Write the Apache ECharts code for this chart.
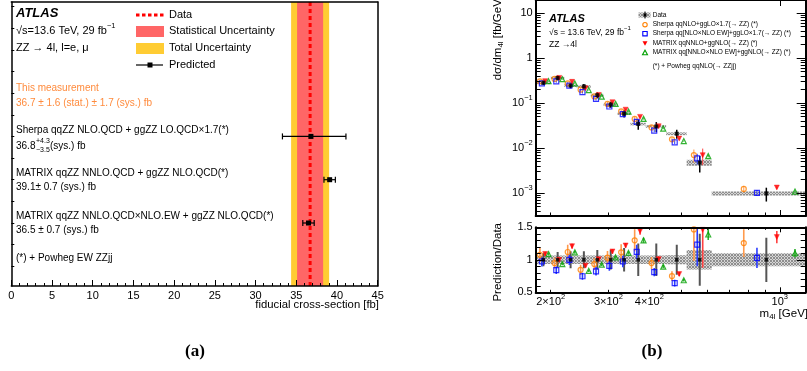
<!DOCTYPE html>
<html>
<head>
<meta charset="utf-8">
<title>ZZ fiducial cross-section and m4l</title>
<script src="https://cdn.jsdelivr.net/npm/echarts@6.0.0/dist/echarts.min.js"></script>
<style>
  html, body { margin: 0; padding: 0; background: #fff; }
  #chart { width: 807px; height: 371px; }
</style>
</head>
<body>
<div id="chart"></div>
<script>
// ---------- (a) fiducial cross-section ----------
const measVal = 36.7
const measStat = 1.6
const measSys = 1.7
const predLabels = [
  'Sherpa qqZZ NLO.QCD + ggZZ LO.QCD×1.7(*)',
  'MATRIX qqZZ NNLO.QCD + ggZZ NLO.QCD(*)',
  'MATRIX qqZZ NNLO.QCD×NLO.EW + ggZZ NLO.QCD(*)'
]
const predVal = [36.8, 39.1, 36.5]
const predDown = [3.5, 0.7, 0.7]
const predUp = [4.3, 0.7, 0.7]
const predRow = [3, 2, 1]

// ---------- (b) m4l differential ----------
const binEdges = [180, 200, 220, 240, 265, 290, 320, 350, 390, 450, 520, 620, 1200]
const dataXs = [0.28, 0.36, 0.243, 0.233, 0.149, 0.092, 0.058, 0.034, 0.030, 0.0207, 0.00473, 0.000975]
const dataStat = [0.10, 0.12, 0.13, 0.13, 0.15, 0.15, 0.18, 0.25, 0.25, 0.23, 0.40, 0.34]
const dataSyst = [0.065, 0.065, 0.065, 0.065, 0.065, 0.065, 0.065, 0.065, 0.065, 0.07, 0.15, 0.10]
const sherpa = [0.3016, 0.342, 0.2722, 0.1971, 0.1393, 0.0950, 0.0647, 0.0442, 0.0285, 0.01553, 0.00694, 0.001226]
const sherpaEW = [0.2727, 0.3024, 0.243, 0.1741, 0.1226, 0.0833, 0.0565, 0.0381, 0.0243, 0.01325, 0.00584, 0.001004]
const matrix = [0.3052, 0.36, 0.2940, 0.2120, 0.1505, 0.1038, 0.0708, 0.0490, 0.0303, 0.01615, 0.00691, 0.001316]
const matrixEW = [0.3046, 0.3366, 0.2709, 0.1934, 0.1378, 0.0955, 0.0641, 0.0442, 0.02685, 0.01418, 0.00657, 0.001073]
const sherpaErr = [0.10, 0.09, 0.10, 0.09, 0.10, 0.10, 0.11, 0.13, 0.10, 0.10, 0.33, 0.17]
const sherpaEWErr = [0.08, 0.07, 0.08, 0.07, 0.08, 0.08, 0.09, 0.10, 0.08, 0.08, 0.27, 0.15]
const matrixErr = [0.03, 0.03, 0.03, 0.03, 0.03, 0.03, 0.03, 0.04, 0.04, 0.04, 0.40, 0.07]
const matrixEWErr = [0.02, 0.02, 0.02, 0.02, 0.02, 0.02, 0.02, 0.03, 0.03, 0.03, 0.06, 0.06]

const xLabelVals = [200, 300, 400, 1000]
const xLabelText = ['2×10{sup|2}', '3×10{sup|2}', '4×10{sup|2}', '10{sup|3}']
const xMinorVals = [200, 300, 400, 500, 600, 700, 800, 900]
const xMajorVals = [1000]
const yLabelVals = [0.001, 0.01, 0.1, 1, 10]
const yLabelText = ['10{sup|−3}', '10{sup|−2}', '10{sup|−1}', '1', '10']

const FONT = 'Liberation Sans'
const lg = Math.log10
const yMinB = 3.07e-4
const yMaxB = 19.4
const yMinorVals = []
for (let k = -4; k <= 1; k++) {
  for (let m = 2; m <= 9; m++) {
    const v = m * Math.pow(10, k)
    if (v > yMinB && v < yMaxB) yMinorVals.push(v)
  }
}

// grey cross-hatch for the data uncertainty
const hc = document.createElement('canvas')
hc.width = 3
hc.height = 3
const hx = hc.getContext('2d')
hx.fillStyle = '#d6d6d6'
hx.fillRect(0, 0, 3, 3)
hx.fillStyle = '#8e8e8e'
;[[0, 0], [1, 1], [2, 2], [0, 2], [2, 0]].forEach(p => hx.fillRect(p[0], p[1], 1, 1))
const hatch = { image: hc, repeat: 'repeat' }

const models = [
  { name: 'Sherpa qqNLO+ggLO×1.7(→ ZZ) (*)', pred: sherpa, err: sherpaErr, shift: -0.23, color: '#ff8000', bar: '#ff9a4d', symbol: 'circle', rotate: 0, hollow: true },
  { name: 'Sherpa qq[NLO×NLO EW]+ggLO×1.7(→ ZZ) (*)', pred: sherpaEW, err: sherpaEWErr, shift: -0.1, color: '#0000ff', bar: '#2a3cff', symbol: 'rect', rotate: 0, hollow: true },
  { name: 'MATRIX qqNNLO+ggNLO(→ ZZ) (*)', pred: matrix, err: matrixErr, shift: 0.12, color: '#ff0000', bar: '#ff4040', symbol: 'triangle', rotate: 180, hollow: false },
  { name: 'MATRIX qq[NNLO×NLO EW]+ggNLO(→ ZZ) (*)', pred: matrixEW, err: matrixEWErr, shift: 0.35, color: '#00a000', bar: '#30b030', symbol: 'triangle', rotate: 0, hollow: true }
]

const bins = dataXs.map((v, i) => {
  const lo = binEdges[i], hi = binEdges[i + 1]
  return { lo, hi, c: (lo + hi) / 2, w: hi - lo }
})

// ---------- axes ----------
function ax(grid, pos, min, max, opt) {
  return Object.assign({
    type: 'value', gridIndex: grid, position: pos, min: min, max: max, z: 10,
    axisLine: { show: true, onZero: false, lineStyle: { color: '#000', width: 2 } },
    axisTick: { show: false }, axisLabel: { show: false },
    splitLine: { show: false }, minorTick: { show: false }
  }, opt)
}
function ticks(vals, len) {
  return { show: true, inside: true, length: len, customValues: vals, lineStyle: { color: '#000', width: 1 } }
}
const noLine = { show: false, onZero: false }
const supRich = { sup: { fontSize: 7.5, lineHeight: 8, verticalAlign: 'top' } }

const xMinA = 0, xMaxA = 45
const yMinA = -0.455, yMaxA = 6.104
const xMinB = lg(180), xMaxB = lg(1200)

const xAxis = [
  // 0: (a) bottom
  ax(0, 'bottom', xMinA, xMaxA, {
    interval: 5,
    axisLine: { show: true, onZero: false, lineStyle: { color: '#000', width: 1.5 } },
    axisTick: { show: true, inside: true, length: 6, lineStyle: { color: '#000' } },
    minorTick: { show: true, splitNumber: 5, length: 3, lineStyle: { color: '#000' } },
    axisLabel: { show: true, margin: 4, fontSize: 11, fontFamily: FONT, color: '#000' }
  }),
  // 1: (a) top
  ax(0, 'top', xMinA, xMaxA, { axisLine: { show: true, onZero: false, lineStyle: { color: '#000', width: 1.5 } } }),
  // 2,3: (b) main bottom
  ax(1, 'bottom', xMinB, xMaxB, { axisTick: ticks(xMajorVals.map(lg), 6) }),
  ax(1, 'bottom', xMinB, xMaxB, { axisLine: noLine, axisTick: ticks(xMinorVals.map(lg), 3.5) }),
  // 4: (b) main top
  ax(1, 'top', xMinB, xMaxB, { axisTick: ticks(xMajorVals.map(lg), 6) }),
  // 5,6: (b) ratio bottom
  ax(2, 'bottom', xMinB, xMaxB, {
    axisTick: ticks(xMajorVals.map(lg), 5),
    axisLabel: {
      show: true, margin: 1, fontSize: 11, fontFamily: FONT, color: '#000', lineHeight: 18,
      customValues: xLabelVals.map(lg), rich: supRich,
      formatter: v => xLabelText[xLabelVals.findIndex(m => Math.abs(lg(m) - v) < 1e-6)] || ''
    }
  }),
  ax(2, 'bottom', xMinB, xMaxB, { axisLine: noLine, axisTick: ticks(xMinorVals.map(lg), 2.5) }),
  // 7,8: (b) ratio top
  ax(2, 'top', xMinB, xMaxB, { axisTick: ticks(xMajorVals.map(lg), 5) }),
  ax(2, 'top', xMinB, xMaxB, { axisLine: noLine, axisTick: ticks(xMinorVals.map(lg), 2.5) })
]

const yTicksA = []
for (let v = 0; v <= 6; v += 0.5) yTicksA.push(v)

const yAxis = [
  // 0,1: (a)
  ax(0, 'left', yMinA, yMaxA, {
    axisLine: { show: true, onZero: false, lineStyle: { color: '#000', width: 1.5 } },
    axisTick: ticks(yTicksA, 3)
  }),
  ax(0, 'right', yMinA, yMaxA, { axisLine: { show: true, onZero: false, lineStyle: { color: '#000', width: 1.5 } } }),
  // 2,3: (b) main left
  ax(1, 'left', lg(yMinB), lg(yMaxB), {
    axisTick: ticks(yLabelVals.map(lg), 9),
    axisLabel: {
      show: true, margin: 3, fontSize: 11, fontFamily: FONT, color: '#000', lineHeight: 18,
      customValues: yLabelVals.map(lg), rich: supRich,
      formatter: v => yLabelText[yLabelVals.findIndex(m => Math.abs(lg(m) - v) < 1e-6)] || ''
    }
  }),
  ax(1, 'left', lg(yMinB), lg(yMaxB), { axisLine: noLine, axisTick: ticks(yMinorVals.map(lg), 5) }),
  // 4,5: (b) main right
  ax(1, 'right', lg(yMinB), lg(yMaxB), { axisTick: ticks(yLabelVals.map(lg), 9) }),
  ax(1, 'right', lg(yMinB), lg(yMaxB), { axisLine: noLine, axisTick: ticks(yMinorVals.map(lg), 5) }),
  // 6,7: (b) ratio
  ax(2, 'left', 0.5, 1.5, {
    interval: 0.5,
    axisTick: { show: true, inside: true, length: 9, lineStyle: { color: '#000' } },
    minorTick: { show: true, splitNumber: 5, length: 5, lineStyle: { color: '#000' } },
    axisLabel: { show: true, margin: 3, fontSize: 11, fontFamily: FONT, color: '#000', showMinLabel: true, showMaxLabel: true }
  }),
  ax(2, 'right', 0.5, 1.5, {
    interval: 0.5,
    axisTick: { show: true, inside: true, length: 9, lineStyle: { color: '#000' } },
    minorTick: { show: true, splitNumber: 5, length: 5, lineStyle: { color: '#000' } }
  })
]

// ---------- render helpers ----------
function bandItem(color) {
  return function (params, api) {
    const cs = params.coordSys
    const a = api.coord([api.value(0), 0])
    const b = api.coord([api.value(1), 0])
    return { type: 'rect', shape: { x: a[0], y: cs.y, width: b[0] - a[0], height: cs.height }, style: { fill: color } }
  }
}
function dataLineItem(params, api) {
  const cs = params.coordSys
  const p = api.coord([api.value(0), 0])
  return { type: 'line', shape: { x1: p[0], y1: cs.y, x2: p[0], y2: cs.y + cs.height }, style: { stroke: '#ff0000', lineWidth: 3, lineDash: [4, 3] } }
}
function predItem(params, api) {
  const x = api.value(0), y = api.value(1)
  const c = api.coord([x, y])
  const l = api.coord([x - api.value(2), y])
  const r = api.coord([x + api.value(3), y])
  const st = { stroke: '#000', lineWidth: 1.2 }
  return {
    type: 'group', children: [
      { type: 'line', shape: { x1: l[0], y1: c[1], x2: r[0], y2: c[1] }, style: st },
      { type: 'line', shape: { x1: l[0], y1: c[1] - 3, x2: l[0], y2: c[1] + 3 }, style: st },
      { type: 'line', shape: { x1: r[0], y1: c[1] - 3, x2: r[0], y2: c[1] + 3 }, style: st },
      { type: 'rect', shape: { x: c[0] - 2.5, y: c[1] - 2.5, width: 5, height: 5 }, style: { fill: '#000' } }
    ]
  }
}
function vbar(color, w) {
  return function (params, api) {
    const a = api.coord([api.value(0), api.value(1)])
    const b = api.coord([api.value(0), api.value(2)])
    return { type: 'line', shape: { x1: a[0], y1: a[1], x2: b[0], y2: b[1] }, style: { stroke: color, lineWidth: w } }
  }
}
function boxItem(params, api) {
  const a = api.coord([api.value(0), api.value(2)])
  const b = api.coord([api.value(1), api.value(3)])
  return {
    type: 'rect',
    shape: { x: Math.min(a[0], b[0]), y: Math.min(a[1], b[1]), width: Math.abs(b[0] - a[0]), height: Math.abs(b[1] - a[1]) },
    style: { fill: hatch }
  }
}
function markerStyle(m) {
  return m.hollow
    ? { color: 'rgba(255,255,255,0)', borderColor: m.color, borderWidth: 1.2 }
    : { color: m.color, borderColor: m.color, borderWidth: 0.5 }
}

const totUnc = Math.hypot(measStat, measSys)
const series = [
  { type: 'custom', xAxisIndex: 0, yAxisIndex: 0, silent: true, data: [[measVal - totUnc, measVal + totUnc]], renderItem: bandItem('#ffcc33') },
  { type: 'custom', xAxisIndex: 0, yAxisIndex: 0, silent: true, data: [[measVal - measStat, measVal + measStat]], renderItem: bandItem('#ff6666') },
  { type: 'custom', xAxisIndex: 0, yAxisIndex: 0, silent: true, data: [[measVal, 0]], renderItem: dataLineItem },
  { type: 'custom', xAxisIndex: 0, yAxisIndex: 0, silent: true, data: predVal.map((v, i) => [v, predRow[i], predDown[i], predUp[i]]), renderItem: predItem }
]

// (b) main panel
series.push({
  type: 'custom', xAxisIndex: 2, yAxisIndex: 2, clip: true, silent: true, renderItem: boxItem,
  data: bins.map((b, i) => [lg(b.lo), lg(b.hi), lg(dataXs[i] * (1 + dataSyst[i])), lg(dataXs[i] * (1 - dataSyst[i]))])
})
// (b) ratio panel band
series.push({
  type: 'custom', xAxisIndex: 5, yAxisIndex: 6, clip: true, silent: true, renderItem: boxItem,
  data: bins.map((b, i) => [lg(b.lo), lg(b.hi), 1 + dataSyst[i], 1 - dataSyst[i]])
})
// data stat error in ratio
series.push({
  type: 'custom', xAxisIndex: 5, yAxisIndex: 6, clip: true, silent: true, renderItem: vbar('#555', 2),
  data: bins.map((b, i) => [lg(b.c), 1 - dataStat[i], 1 + dataStat[i]])
})

models.forEach(m => {
  const xs = bins.map(b => lg(b.c + m.shift * b.w))
  series.push({
    type: 'custom', xAxisIndex: 2, yAxisIndex: 2, clip: true, silent: true, renderItem: vbar(m.bar, 1),
    data: m.pred.map((p, i) => [xs[i], lg(p * (1 - m.err[i])), lg(p * (1 + m.err[i]))])
  })
  series.push({
    type: 'scatter', xAxisIndex: 2, yAxisIndex: 2, silent: true, symbol: m.symbol, symbolRotate: m.rotate, symbolSize: 5,
    itemStyle: markerStyle(m), data: m.pred.map((p, i) => [xs[i], lg(p)])
  })
  const ratio = m.pred.map((p, i) => p / dataXs[i])
  series.push({
    type: 'custom', xAxisIndex: 5, yAxisIndex: 6, clip: true, silent: true, renderItem: vbar(m.bar, 1.6),
    data: ratio.map((r, i) => [xs[i], r * (1 - m.err[i]), r * (1 + m.err[i])])
  })
  series.push({
    type: 'scatter', xAxisIndex: 5, yAxisIndex: 6, silent: true, symbol: m.symbol, symbolRotate: m.rotate, symbolSize: 5,
    itemStyle: markerStyle(m), data: ratio.map((r, i) => [xs[i], r])
  })
})

// data points
series.push({
  type: 'custom', xAxisIndex: 2, yAxisIndex: 2, clip: true, silent: true, renderItem: vbar('#000', 1.5),
  data: bins.map((b, i) => [lg(b.c), lg(dataXs[i] * (1 - dataStat[i])), lg(dataXs[i] * (1 + dataStat[i]))])
})
series.push({
  type: 'scatter', xAxisIndex: 2, yAxisIndex: 2, silent: true, symbol: 'rect', symbolSize: 4,
  itemStyle: { color: '#000' }, data: bins.map((b, i) => [lg(b.c), lg(dataXs[i])])
})
series.push({
  type: 'scatter', xAxisIndex: 5, yAxisIndex: 6, silent: true, symbol: 'rect', symbolSize: 3.5,
  itemStyle: { color: '#000' }, data: bins.map(b => [lg(b.c), 1])
})

// ---------- texts and legends ----------
function txt(x, y, text, size, style, extra) {
  return Object.assign({
    type: 'text', x: x, y: y, z: 100, silent: true,
    style: Object.assign({ text: text, fontSize: size, fontFamily: FONT, fill: '#000', align: 'left', verticalAlign: 'middle' }, style || {})
  }, extra || {})
}
const orange = '#ff8b3d'
const g = []
// (a)
g.push(txt(16, 13, 'ATLAS', 13, { fontWeight: 'bold', fontStyle: 'italic' }))
g.push(txt(16, 31, '√s=13.6 TeV, 29 fb{sup|−1}', 11, { lineHeight: 18, rich: supRich }))
g.push(txt(16, 48, 'ZZ → 4l, l=e, μ', 11))
g.push({ type: 'line', z: 100, silent: true, shape: { x1: 136, y1: 15, x2: 164, y2: 15 }, style: { stroke: '#ff0000', lineWidth: 3, lineDash: [3.5, 2.5] } })
g.push({ type: 'rect', z: 100, silent: true, shape: { x: 136, y: 26, width: 28, height: 11 }, style: { fill: '#ff6666' } })
g.push({ type: 'rect', z: 100, silent: true, shape: { x: 136, y: 43, width: 28, height: 11 }, style: { fill: '#ffcc33' } })
g.push({ type: 'line', z: 100, silent: true, shape: { x1: 136, y1: 65, x2: 163, y2: 65 }, style: { stroke: '#000', lineWidth: 1.2 } })
g.push({ type: 'rect', z: 100, silent: true, shape: { x: 147.5, y: 62.5, width: 5, height: 5 }, style: { fill: '#000' } })
g.push(txt(169, 15, 'Data', 11))
g.push(txt(169, 31, 'Statistical Uncertainty', 11))
g.push(txt(169, 48, 'Total Uncertainty', 11))
g.push(txt(169, 65, 'Predicted', 11))
g.push(txt(16, 88, 'This measurement', 10, { fill: orange }))
g.push(txt(16, 103, measVal + ' ± ' + measStat + ' (stat.) ± ' + measSys + ' (sys.) fb', 10, { fill: orange }))
const rowTextY = [130, 173, 216]
predLabels.forEach((s, i) => g.push(txt(16, rowTextY[i], s, 10)))
g.push(txt(16, 146, String(predVal[0]), 10))
g.push(txt(36, 141.5, '+' + predUp[0], 7))
g.push(txt(36, 150, '−' + predDown[0], 7))
g.push(txt(50, 146, '(sys.) fb', 10))
g.push(txt(16, 187, predVal[1] + '± ' + predDown[1] + ' (sys.) fb', 10))
g.push(txt(16, 230, predVal[2] + ' ± ' + predDown[2] + ' (sys.) fb', 10))
g.push(txt(16, 258, '(*) + Powheg EW ZZjj', 10))
g.push(txt(379, 305, 'fiducial cross-section [fb]', 11.3, { align: 'right' }))
g.push(txt(195, 352, '(a)', 17, { fontFamily: 'Liberation Serif', fontWeight: 'bold', align: 'center' }))

// (b)
g.push(txt(549, 19, 'ATLAS', 11, { fontWeight: 'bold', fontStyle: 'italic' }))
g.push(txt(549, 32.7, '√s = 13.6 TeV, 29 fb{sup|−1}', 8.5, { lineHeight: 14, rich: { sup: { fontSize: 6, lineHeight: 6, verticalAlign: 'top' } } }))
g.push(txt(549, 44.3, 'ZZ →4l', 8.5))
const legY = [24.7, 33.7, 43.3, 52.7]
g.push({ type: 'rect', z: 100, silent: true, shape: { x: 638.5, y: 12.5, width: 12, height: 5 }, style: { fill: hatch } })
g.push({ type: 'line', z: 100, silent: true, shape: { x1: 645, y1: 11.5, x2: 645, y2: 18.5 }, style: { stroke: '#000', lineWidth: 1 } })
g.push({ type: 'rect', z: 100, silent: true, shape: { x: 643.5, y: 13.5, width: 3, height: 3 }, style: { fill: '#000' } })
g.push(txt(652.7, 15, 'Data', 6.5))
models.forEach((m, i) => {
  const y = legY[i]
  const st = m.hollow ? { fill: 'none', stroke: m.color, lineWidth: 1.1 } : { fill: m.color }
  if (m.symbol === 'circle') g.push({ type: 'circle', z: 100, silent: true, shape: { cx: 645, cy: y, r: 2.2 }, style: st })
  else if (m.symbol === 'rect') g.push({ type: 'rect', z: 100, silent: true, shape: { x: 642.8, y: y - 2.2, width: 4.4, height: 4.4 }, style: st })
  else if (m.rotate) g.push({ type: 'polygon', z: 100, silent: true, shape: { points: [[642.5, y - 2], [647.5, y - 2], [645, y + 2.5]] }, style: st })
  else g.push({ type: 'polygon', z: 100, silent: true, shape: { points: [[642.5, y + 2], [647.5, y + 2], [645, y - 2.5]] }, style: st })
  g.push(txt(652.7, y, m.name, 6.5))
})
g.push(txt(652.7, 66, '(*) + Powheg qqNLO(→ ZZjj)', 6.5))
g.push(txt(498, -4, 'dσ/dm{sub|4l} [fb/GeV]', 11.5,
  { align: 'right', lineHeight: 14, rich: { sub: { fontSize: 8, lineHeight: 8, verticalAlign: 'bottom' } } },
  { rotation: Math.PI / 2 }))
g.push(txt(498, 223, 'Prediction/Data', 11.5, { align: 'right' }, { rotation: Math.PI / 2 }))
g.push(txt(808, 314, 'm{sub|4l} [GeV]', 11.5,
  { align: 'right', lineHeight: 14, rich: { sub: { fontSize: 8, lineHeight: 8, verticalAlign: 'bottom' } } }))
g.push(txt(652, 352, '(b)', 17, { fontFamily: 'Liberation Serif', fontWeight: 'bold', align: 'center' }))

const chart = echarts.init(document.getElementById('chart'))
chart.setOption({
  animation: false,
  backgroundColor: '#fff',
  grid: [
    { left: 11.3, top: 2, width: 366.4, height: 284 },
    { left: 535.7, top: -1, width: 270, height: 217 },
    { left: 535.7, top: 227.3, width: 270, height: 65 }
  ],
  xAxis: xAxis,
  yAxis: yAxis,
  series: series,
  graphic: g
})
</script>
</body>
</html>
